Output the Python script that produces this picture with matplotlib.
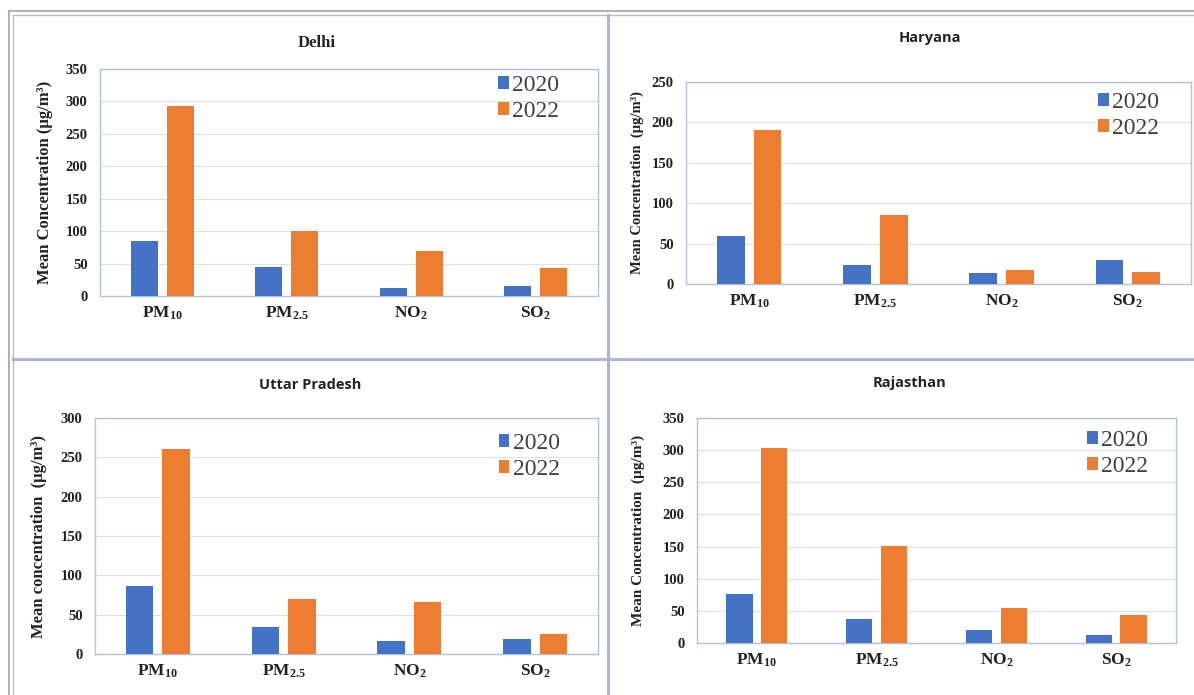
import matplotlib
matplotlib.use("Agg")
import matplotlib.pyplot as plt
import numpy as np
from matplotlib.lines import Line2D

plt.rcParams['mathtext.fontset'] = 'custom'
plt.rcParams['mathtext.rm'] = 'Liberation Serif:bold'
plt.rcParams['mathtext.it'] = 'Liberation Serif:bold'
plt.rcParams['mathtext.bf'] = 'Liberation Serif:bold'

categories = [r'PM$_{10}$', r'PM$_{2.5}$', r'NO$_{2}$', r'SO$_{2}$']
years = ['2020', '2022']

delhi_2020 = [85, 44, 13, 16]
delhi_2022 = [293, 100, 69, 43]
haryana_2020 = [59, 24, 14, 30]
haryana_2022 = [190, 86, 17, 15]
up_2020 = [86, 34, 17, 19]
up_2022 = [260, 70, 66, 25]
raj_2020 = [77, 38, 21, 13]
raj_2022 = [303, 151, 55, 43]

W, H = 1194, 695
fig = plt.figure(figsize=(W / 100, H / 100), dpi=100)
fig.patch.set_facecolor('white')

BLUE = '#4472C4'
ORANGE = '#ED7D31'
GRID = '#e0e0e0'
FRAME = '#b4c0dc'

def px_axes(l, t, r, b):
    return fig.add_axes([l / W, 1 - b / H, (r - l) / W, (b - t) / H])

panels = [
    dict(box=(100, 69, 598, 296), title='Delhi', tfam='Liberation Serif', tsize=12, tx=317, ty=43,
         v1=delhi_2020, v2=delhi_2022, ymax=350, ylabel='Mean Concentration (µg/m³)',
         ylx=-0.094, ylsize=12, leg=(0.922, 0.974)),
    dict(box=(686, 82, 1191, 284), title='Haryana', tfam='Open Sans', tsize=10.5, tx=930, ty=38,
         v1=haryana_2020, v2=haryana_2022, ymax=250, ylabel='Mean Concentration  (µg/m³)',
         ylx=-0.083, ylsize=10.5, leg=(0.937, 0.95)),
    dict(box=(95, 418, 598, 654), title='Uttar Pradesh', tfam='Open Sans', tsize=10.5, tx=310, ty=385,
         v1=up_2020, v2=up_2022, ymax=300, ylabel='Mean concentration  (µg/m³)',
         ylx=-0.095, ylsize=12, leg=(0.924, 0.936)),
    dict(box=(697, 418, 1176, 643), title='Rajasthan', tfam='Open Sans', tsize=10.5, tx=910, ty=383,
         v1=raj_2020, v2=raj_2022, ymax=350, ylabel='Mean Concentration  (µg/m³)',
         ylx=-0.109, ylsize=11, leg=(0.942, 0.947)),
]

x = np.arange(len(categories))
bw = 0.22
off = 0.145

for p in panels:
    l, t, r, b = p['box']
    ax = px_axes(l, t, r, b)
    ax.bar(x - off, p['v1'], bw, color=BLUE, label=years[0], zorder=3)
    ax.bar(x + off, p['v2'], bw, color=ORANGE, label=years[1], zorder=3)
    ax.set_xlim(-0.5, len(categories) - 0.5)
    ax.set_ylim(0, p['ymax'])
    ax.set_yticks(np.arange(0, p['ymax'] + 1, 50))
    ax.yaxis.grid(True, color=GRID, linewidth=0.8, zorder=0)
    ax.set_axisbelow(True)
    for s in ax.spines.values():
        s.set_color(FRAME)
        s.set_linewidth(1.0)
    ax.tick_params(axis='y', length=0, pad=9)
    ax.tick_params(axis='x', length=0, pad=6)
    ax.set_xticks(x)
    ax.set_xticklabels(categories)
    for lab in ax.get_xticklabels():
        lab.set_fontfamily('Liberation Serif')
        lab.set_fontweight('bold')
        lab.set_fontsize(12.5)
        lab.set_color('#222222')
    for lab in ax.get_yticklabels():
        lab.set_fontfamily('Liberation Serif')
        lab.set_fontweight('bold')
        lab.set_fontsize(10.5)
        lab.set_color('#222222')
    ax.set_ylabel(p['ylabel'], fontfamily='Liberation Serif', fontweight='bold',
                  fontsize=p['ylsize'], color='#222222')
    ax.yaxis.set_label_coords(p['ylx'], 0.5)
    leg = ax.legend(loc='upper right', bbox_to_anchor=p['leg'], frameon=False,
                    prop={'family': 'Liberation Serif', 'size': 17},
                    handlelength=0.45, handleheight=0.45, handletextpad=0.15,
                    labelspacing=0.2, borderaxespad=0.0, borderpad=0.0)
    for txt in leg.get_texts():
        txt.set_color('#404040')
    fig.text(p['tx'] / W, 1 - p['ty'] / H, p['title'], ha='center', va='center',
             fontfamily=p['tfam'], fontweight='bold', fontsize=p['tsize'], color='#222222')

def fline(xs, ys, color, lw):
    fig.add_artist(Line2D([v / W for v in xs], [1 - v / H for v in ys],
                          color=color, linewidth=lw, transform=fig.transFigure))

# outer double border (top and left)
fline([9, W], [11, 11], '#a0a4ac', 1.2)
fline([13, W], [15, 15], '#b8bcc4', 1.0)
fline([9, 9], [11, H], '#a0a4ac', 1.2)
fline([13, 13], [15, H], '#b8bcc4', 1.0)
# dividers
fline([608, 608], [15, H], '#aab3d8', 2.2)
fline([13, W], [359, 359], '#aab3d8', 2.2)

fig.savefig('out.png', dpi=100, facecolor='white')
